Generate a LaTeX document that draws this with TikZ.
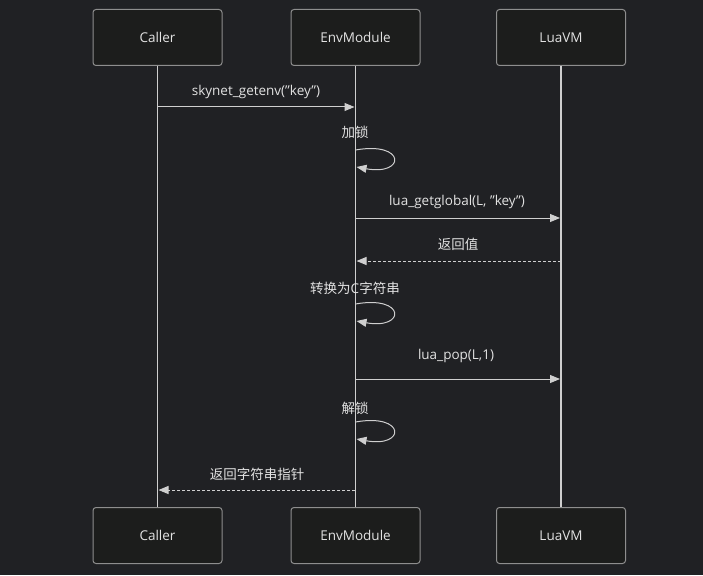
\documentclass[tikz,border=0pt]{standalone}
\usepackage{fontspec}
\setmainfont{Open Sans}[Ligatures=ResetAll]
\newfontfamily\cjk{Noto Sans CJK SC}
\usetikzlibrary{arrows.meta}
\definecolor{bgc}{HTML}{202124}
\definecolor{boxfill}{HTML}{1C1D1C}
\definecolor{boxline}{HTML}{8E8E8E}
\definecolor{linec}{HTML}{CFCFCF}
\definecolor{txt}{HTML}{E2E2E2}
\newcommand{\dq}{\symbol{34}}
\tikzset{
  actor/.style={draw=boxline, line width=1pt, fill=boxfill, rounded corners=3pt,
    minimum width=129pt, minimum height=56pt, inner sep=0pt, text=txt,
    font=\fontsize{13.5pt}{15pt}\selectfont},
  life/.style={draw=linec, line width=1.2pt},
  msg/.style={draw=linec, line width=1pt, -{Triangle[length=10pt,width=8pt]}},
  ret/.style={msg, dash pattern=on 3pt off 2pt},
  lbl/.style={text=txt, font=\fontsize{13.5pt}{15pt}\selectfont, inner sep=0pt},
}
\begin{document}
\begin{tikzpicture}[x=1pt,y=-1pt]
\fill[bgc] (0,0) rectangle (703,575);
\useasboundingbox (0,0) rectangle (703,575);
% actors
\node[actor] (c1) at (157.5,37.5) {Caller};
\node[actor] (e1) at (355.5,37.5) {EnvModule};
\node[actor] (l1) at (561,37.5) {LuaVM};
\node[actor] (c2) at (157.5,535.5) {Caller};
\node[actor] (e2) at (355.5,535.5) {EnvModule};
\node[actor] (l2) at (561,535.5) {LuaVM};
% lifelines
\draw[life] (c1.south) -- (c2.north);
\draw[life] (e1.south) -- (e2.north);
\draw[life] (l1.south) -- (l2.north);
% y-levels
\coordinate (a1s) at (157.5,107); \coordinate (a1e) at (354.5,107);
\coordinate (a3s) at (355.5,218); \coordinate (a3e) at (560,218);
\coordinate (a4s) at (561,261); \coordinate (a4e) at (356.5,261);
\coordinate (a6s) at (355.5,379); \coordinate (a6e) at (560,379);
\coordinate (a8s) at (355,490); \coordinate (a8e) at (158.5,490);
% messages
\draw[msg] (a1s) -- (a1e);
\node[lbl] at (256,92) {skynet\_getenv(\dq key\dq)};
% self 1
\coordinate (s1a) at (355.5,150); \coordinate (s1b) at (356.5,167);
\draw[msg] (s1a) .. controls (406,141) and (406,176) .. (s1b);
\node[lbl] at (355,132) {\cjk 加锁};
\draw[msg] (a3s) -- (a3e);
\node[lbl] at (457,202) {lua\_getglobal(L, \dq key\dq)};
\draw[ret] (a4s) -- (a4e);
\node[lbl] at (458,244) {\cjk 返回值};
% self 2
\coordinate (s2a) at (355.5,304); \coordinate (s2b) at (356.5,321);
\draw[msg] (s2a) .. controls (406,295) and (406,330) .. (s2b);
\node[lbl] at (355,288) {{\cjk 转换为}C{\cjk 字符串}};
\draw[msg] (a6s) -- (a6e);
\node[lbl] at (456,356) {lua\_pop(L,1)};
% self 3
\coordinate (s3a) at (355.5,422); \coordinate (s3b) at (356.5,439);
\draw[msg] (s3a) .. controls (406,413) and (406,448) .. (s3b);
\node[lbl] at (355,408) {\cjk 解锁};
\draw[ret] (a8s) -- (a8e);
\node[lbl] at (257,474) {\cjk 返回字符串指针};
\end{tikzpicture}
\end{document}
